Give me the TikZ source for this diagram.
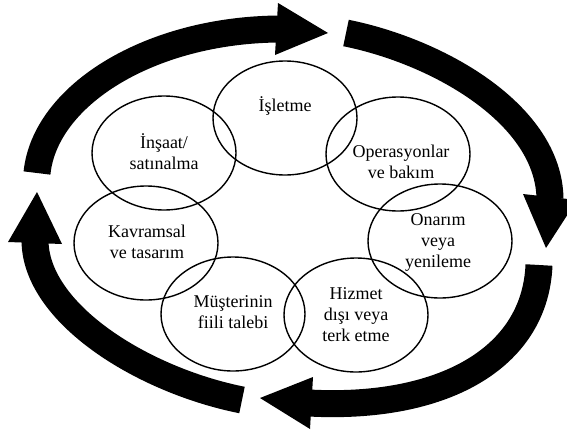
\documentclass[tikz,border=0pt]{standalone}
\usepackage{fontspec}
\setmainfont{Liberation Serif}
\usetikzlibrary{shapes.geometric}
\begin{document}
\begin{tikzpicture}[x=1pt,y=-1pt,
  phase/.style={draw, ellipse, line width=1.4pt, minimum width=144pt, minimum height=114pt, inner sep=0pt},
  lbl/.style={align=center, font=\fontsize{18}{21}\selectfont, inner sep=0pt},
  shaft/.style={line width=27pt},
  head/.style={fill=black}]
\useasboundingbox (0,0) rectangle (567,434);
\clip (0,0) rectangle (567,434);

% phase ellipses
\node[phase] (isletme) at (285,118) {};
\node[phase] (insaat)  at (164,153) {};
\node[phase] (opbak)   at (398,154) {};
\node[phase] (kavram)  at (146,243) {};
\node[phase] (onarim)  at (440,241) {};
\node[phase] (musteri) at (233,314) {};
\node[phase] (hizmet)  at (356,315) {};

% labels
\node[lbl] (tisletme) at (285,106) {İşletme};
\node[lbl] (tinsaat)  at (164,152) {İnşaat/\\satınalma};
\node[lbl] (topbak)   at (401,162) {Operasyonlar\\ve bakım};
\node[lbl] (tkavram)  at (147,242) {Kavramsal\\ve tasarım};
\node[lbl] (tonarim)  at (438,242) {Onarım\\veya\\yenileme};
\node[lbl] (tmusteri) at (233,312) {Müşterinin\\fiili talebi};
\node[lbl] (thizmet)  at (356,315) {Hizmet\\dışı veya\\terk etme};

% cycle arrows
\coordinate (a1s) at (37,173);  \coordinate (a1e) at (279,29);
\coordinate (a2s) at (346,33);  \coordinate (a2e) at (550,199);
\coordinate (a3s) at (539,265); \coordinate (a3e) at (309,403);
\coordinate (a4s) at (242,400); \coordinate (a4e) at (35,240);

\draw[shaft] (a1s) .. controls (45,95) and (150,30) .. (a1e);
\fill[head] (278,3) -- (328,33) -- (275,55) -- cycle;

\draw[shaft] (a2s) .. controls (440,52) and (549,115) .. (a2e);
\fill[head] (523,194) -- (546,248) -- (577,200) -- cycle;

\draw[shaft] (a3s) .. controls (535,360) and (440,410) .. (a3e);
\fill[head] (313,377) -- (260,398) -- (310,429) -- cycle;

\draw[shaft] (a4s) .. controls (142,380) and (35,313) .. (a4e);
\fill[head] (8,242) -- (37,192) -- (62,244) -- cycle;
\end{tikzpicture}
\end{document}
